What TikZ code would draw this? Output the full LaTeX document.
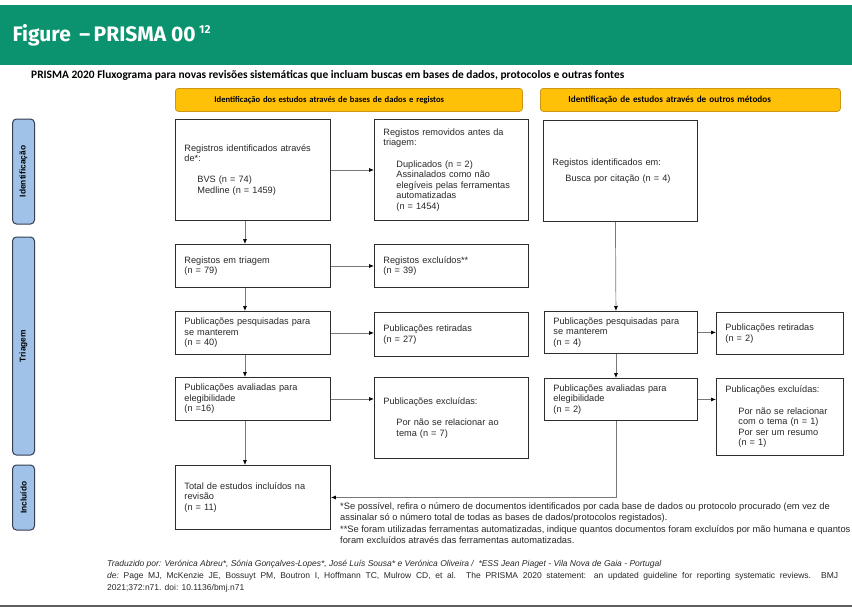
\documentclass[tikz,border=0pt]{standalone}
\usepackage{fontspec}
\usepackage{graphicx}
\usetikzlibrary{arrows.meta,positioning}
\setmainfont{Liberation Sans}
\newfontfamily\carlito{Carlito}
\newfontfamily\firasans{Fira Sans}

\definecolor{prismagreen}{RGB}{11,146,110}
\definecolor{headeryellow}{RGB}{255,193,7}
\definecolor{headerline}{RGB}{205,150,20}
\definecolor{stageblue}{RGB}{160,194,232}
\definecolor{stageline}{RGB}{55,62,80}
\definecolor{boxline}{RGB}{45,45,45}
\definecolor{boxtext}{RGB}{40,40,40}
\definecolor{arrowgrey}{RGB}{120,120,120}
\definecolor{rulegrey}{RGB}{95,95,95}

\newcommand{\boxfont}{\fontsize{9.2}{10.6}\selectfont}
\newcommand{\stagefont}{\fontsize{8.4}{9}\selectfont\bfseries}
\newcommand{\hdrfont}{\carlito\fontsize{8.6}{9}\selectfont\bfseries}
\newcommand{\ind}{\hspace*{13pt}}

\begin{document}
\begin{tikzpicture}[x=1pt,y=-1pt,
  box/.style 2 args={draw=boxline,line width=0.9pt,fill=white,anchor=north west,text=boxtext,
    align=left,inner xsep=9pt,inner ysep=2pt,text width=#1,minimum height=#2,font=\boxfont},
  stage/.style={draw=stageline,fill=stageblue,rounded corners=4pt,line width=1pt,
    rotate=90,minimum height=22pt,inner sep=0pt,font=\stagefont},
  header/.style={draw=headerline,fill=headeryellow,rounded corners=3pt,line width=0.8pt,
    anchor=north west,minimum height=23pt,inner sep=0pt,align=left,font=\hdrfont},
  arr/.style={draw=arrowgrey,line width=0.7pt,-{Latex[length=5pt,width=4pt,color=black]}}]
\useasboundingbox (0,0) rectangle (852,614);
\fill[white] (0,0) rectangle (852,614);

% title band
\fill[prismagreen] (0,5) rectangle (852,65);
\node[anchor=west,text=white,font=\firasans\fontsize{21}{24}\selectfont\bfseries] (title) at (9,35)
  {Figure \,–\,PRISMA 00\,\raisebox{7.5pt}{\fontsize{11.5}{11.5}\selectfont 12}};
\node[anchor=west,inner sep=0pt,font=\carlito\fontsize{11.4}{12}\selectfont\bfseries] (subtitle) at (31,75)
  {PRISMA 2020 Fluxograma para novas revisões sistemáticas que incluam buscas em bases de dados, protocolos e outras fontes};

% column headers
\node[header,minimum width=347pt,text width=269pt] (hdrbases) at (175,88)
  {Identificação dos estudos através de bases de dados e registos};
\node[header,minimum width=300pt,text width=244pt,font=\carlito\fontsize{9.2}{9}\selectfont\bfseries] (hdroutros) at (540,88)
  {Identificação de estudos através de outros métodos};

% stages
\node[stage,minimum width=105pt] (identificacao) at (23.5,171.5) {Identificação};
\node[stage,minimum width=218pt] (triagem) at (23.5,346) {Triagem};
\node[stage,minimum width=65pt] (incluido) at (23.5,497.5) {Incluído};

% bases de dados e registos
\node[box={137pt}{101pt}] (idbases) at (175,119)
  {Registros identificados através\\de*:\\[10.6pt]\ind BVS (n = 74)\\\ind Medline (n = 1459)};
\node[box={136pt}{101pt}] (removidos) at (374,119)
  {Registos removidos antes da\\triagem:\\[10.6pt]\ind Duplicados (n = 2)\\\ind Assinalados como não\\\ind elegíveis pelas ferramentas\\\ind automatizadas\\\ind (n = 1454)};
\node[box={137pt}{43pt}] (emtriagem) at (175,244)
  {Registos em triagem\\(n = 79)};
\node[box={136pt}{43pt}] (excluidos) at (374,244)
  {Registos excluídos**\\(n = 39)};
\node[box={137pt}{43pt}] (pesquisadas) at (175,311)
  {Publicações pesquisadas para\\se manterem\\(n = 40)};
\node[box={136pt}{44pt}] (retiradas) at (374,312)
  {Publicações retiradas\\(n = 27)};
\node[box={137pt}{43pt}] (avaliadas) at (175,377)
  {Publicações avaliadas para\\elegibilidade\\(n =16)};
\node[box={136pt}{81pt}] (excluidas) at (374,377)
  {Publicações excluídas:\\[10.6pt]\ind Por não se relacionar ao\\\ind tema (n = 7)\\[10pt]};
\node[box={137pt}{64pt}] (total) at (175,465)
  {Total de estudos incluídos na\\revisão\\(n = 11)};

% outros metodos
\node[box={136pt}{101pt}] (idoutros) at (543,120)
  {Registos identificados em:\\[6pt]\ind Busca por citação (n = 4)\\[22pt]};
\node[box={135pt}{42pt}] (pesqoutros) at (544,311)
  {Publicações pesquisadas para\\se manterem\\(n = 4)};
\node[box={109pt}{42pt}] (retoutros) at (716,312)
  {Publicações retiradas\\(n = 2)};
\node[box={135pt}{42pt}] (avaloutros) at (544,378)
  {Publicações avaliadas para\\elegibilidade\\(n = 2)};
\node[box={109pt}{77pt}] (excloutros) at (716,378)
  {Publicações excluídas:\\[10.6pt]\ind Por não se relacionar\\\ind com o tema (n = 1)\\\ind Por ser um resumo\\\ind (n = 1)};

% arrows
\draw[arr] (idbases) -- (removidos);
\draw[arr] ([xshift=-8pt]idbases.south) -- ([xshift=-8pt]emtriagem.north);
\draw[arr] (emtriagem.east) -- (emtriagem.east -| excluidos.west);
\draw[arr] ([xshift=-8pt]emtriagem.south) -- ([xshift=-8pt]pesquisadas.north);
\draw[arr] (pesquisadas.east) -- (pesquisadas.east -| retiradas.west);
\draw[arr] ([xshift=-8pt]pesquisadas.south) -- ([xshift=-8pt]avaliadas.north);
\draw[arr] (avaliadas.east) -- (avaliadas.east -| excluidas.west);
\draw[arr] ([xshift=-8pt]avaliadas.south) -- ([xshift=-8pt]total.north);
\draw[arr] ([xshift=-5pt]idoutros.south) -- ([xshift=-5pt]pesqoutros.north);
\draw[arr] (pesqoutros.east) -- (pesqoutros.east -| retoutros.west);
\draw[arr] ([xshift=-5pt]pesqoutros.south) -- ([xshift=-5pt]avaloutros.north);
\draw[arr] (avaloutros.east) -- (avaloutros.east -| excloutros.west);
\draw[arr] ([xshift=-5pt]avaloutros.south) |- (total.east);

% notes
\node[anchor=north west,align=left,inner sep=0pt,text=boxtext,font=\fontsize{9.3}{11.6}\selectfont] (notas) at (340,502)
  {*Se possível, refira o número de documentos identificados por cada base de dados ou protocolo procurado (em vez de\\
   assinalar só o número total de todas as bases de dados/protocolos registados).\\
   **Se foram utilizadas ferramentas automatizadas, indique quantos documentos foram excluídos por mão humana e quantos\\
   foram excluídos através das ferramentas automatizadas.};

\node[anchor=north west,align=left,inner sep=0pt,text=boxtext,font=\fontsize{8.5}{12}\selectfont] (creditos) at (107,560)
  {{\itshape Traduzido por: Verónica Abreu*, Sónia Gonçalves-Lopes*, José Luís Sousa* e Verónica Oliveira /\ \ *ESS Jean Piaget - Vila Nova de Gaia - Portugal}\\
   \makebox[731pt][s]{\itshape de:\upshape\ Page MJ, McKenzie JE, Bossuyt PM, Boutron I, Hoffmann TC, Mulrow CD, et al. The PRISMA 2020 statement: an updated guideline for reporting systematic reviews. BMJ}\\
   2021;372:n71. doi: 10.1136/bmj.n71};

\draw[rulegrey,line width=1.6pt] (0,606) -- (852,606);
\end{tikzpicture}
\end{document}
